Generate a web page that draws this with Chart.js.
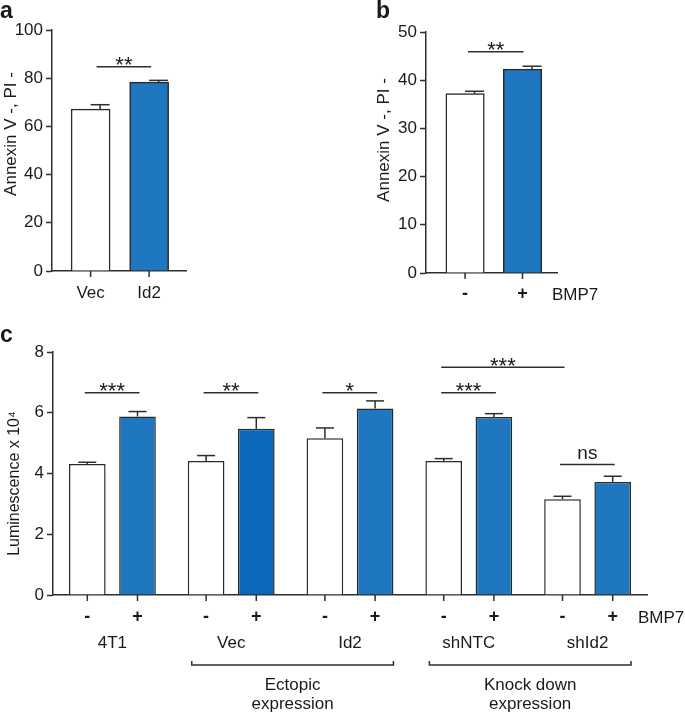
<!DOCTYPE html>
<html><head><meta charset="utf-8">
<script src="https://cdn.jsdelivr.net/npm/chart.js@4"></script>
<style>
body{margin:0;background:#fff;width:685px;height:717px;position:relative;overflow:hidden}
canvas{position:absolute}
</style></head><body>
<canvas id="ca" width="200" height="310" style="left:0;top:0"></canvas>
<canvas id="cb" width="280" height="310" style="left:355px;top:0"></canvas>
<canvas id="cc" width="685" height="417" style="left:0;top:300px"></canvas>
<script>
// ---- data ----
const aCategories = ['Vec', 'Id2'];
const aValues = [67.2, 78.4];
const aErrors = [1.8, 0.7];
const aSig = [{from: 0, to: 1, y: 84.8, label: '**'}];

const bCategories = ['-', '+'];
const bValues = [37.2, 42.3];
const bErrors = [0.5, 0.6];
const bSig = [{from: 0, to: 1, y: 45.9, label: '**'}];

const cGroups = ['4T1', 'Vec', 'Id2', 'shNTC', 'shId2'];
const cTreat = ['-', '+'];
const cMinus = [4.31, 4.41, 5.16, 4.41, 3.15];
const cMinusErr = [0.06, 0.18, 0.34, 0.08, 0.10];
const cPlus = [5.88, 5.47, 6.14, 5.86, 3.72];
const cPlusErr = [0.16, 0.37, 0.25, 0.11, 0.19];
const cSig = [
  {from: [0, 0], to: [1, 0], y: 6.66, label: '***'},
  {from: [0, 1], to: [1, 1], y: 6.66, label: '**'},
  {from: [0, 2], to: [1, 2], y: 6.66, label: '*'},
  {from: [0, 3], to: [1, 3], y: 6.66, label: '***'},
  {from: [0, 3], to: [0, 4], y: 7.5, label: '***'},
  {from: [0, 4], to: [1, 4], y: 4.3, label: 'ns'}
];
const cBrackets = [
  {from: 1, to: 2, lines: ['Ectopic', 'expression']},
  {from: 3, to: 4, lines: ['Knock down', 'expression']}
];

// ---- helpers ----
const FONT = '"Liberation Sans", Arial, Helvetica, sans-serif';
Chart.defaults.font.family = FONT;
const INK = '#1a1a1a', AX = '#2e2e2e';
const WHITE = '#ffffff', BLUE = '#1f77bf', BLUE2 = '#0a69bb';

function txt(ctx, s, x, y, size, opts = {}) {
  ctx.save();
  ctx.font = (opts.bold ? 'bold ' : '') + size + 'px ' + FONT;
  ctx.textAlign = opts.align || 'center';
  ctx.textBaseline = opts.base || 'alphabetic';
  ctx.fillStyle = INK;
  ctx.fillText(s, x, y);
  ctx.restore();
}
function vtxt(ctx, s, x, y, size) {
  ctx.save();
  ctx.translate(x, y);
  ctx.rotate(-Math.PI / 2);
  ctx.font = size + 'px ' + FONT;
  ctx.textAlign = 'center';
  ctx.textBaseline = 'middle';
  ctx.fillStyle = INK;
  ctx.fillText(s, 0, 0);
  ctx.restore();
}
function line(ctx, pts, w = 1.5) {
  ctx.save();
  ctx.strokeStyle = AX; ctx.lineWidth = w;
  ctx.beginPath();
  pts.forEach((p, i) => i ? ctx.lineTo(p[0], p[1]) : ctx.moveTo(p[0], p[1]));
  ctx.stroke();
  ctx.restore();
}
function errPlugin(errs, off, half) {
  return {
    id: 'errbars',
    afterDatasetsDraw(chart) {
      const ys = chart.scales.y, ctx = chart.ctx;
      chart.data.datasets.forEach((ds, di) => {
        chart.getDatasetMeta(di).data.forEach((bar, i) => {
          const raw = ds.data[i];
          const v = (typeof raw === 'object') ? raw.y : raw;
          const top = ys.getPixelForValue(v + errs[di][i]);
          const cx = bar.x + off;
          line(ctx, [[cx, bar.y], [cx, top]]);
          line(ctx, [[cx - half, top], [cx + half, top]]);
        });
      });
    }
  };
}
function sigDraw(chart, s, x1, x2) {
  const ctx = chart.ctx;
  const y = chart.scales.y.getPixelForValue(s.y);
  line(ctx, [[x1, y], [x2, y]]);
  const cx = (x1 + x2) / 2;
  if (s.label === 'ns') txt(ctx, s.label, cx, y - 5, 19);
  else txt(ctx, s.label, cx, y + 5.5, 22);
}
function xTick(chart, x) {
  const b = chart.chartArea.bottom;
  line(chart.ctx, [[x, b], [x, b + 6]]);
}

const yCommon = (max, step, width) => ({
  min: 0, max: max,
  ticks: {stepSize: step, color: INK, font: {size: 17}, padding: 3},
  grid: {drawOnChartArea: false, drawTicks: true, tickLength: 6, tickColor: AX, tickWidth: 1.5},
  border: {color: AX, width: 1.5},
  afterFit: s => { s.width = width; }
});
const baseOpts = {
  responsive: false, animation: false, events: [],
  plugins: {legend: {display: false}, tooltip: {enabled: false}}
};

// ---- panel a ----
new Chart(document.getElementById('ca'), {
  type: 'bar',
  data: {datasets: [{
    data: aCategories.map((c, i) => ({x: i, y: aValues[i]})),
    backgroundColor: [WHITE, BLUE], borderColor: '#2a2a2a', borderWidth: 1.5, barThickness: 39
  }]},
  options: Object.assign({}, baseOpts, {
    layout: {padding: {left: 0, top: 30, right: 14, bottom: 0}},
    scales: {
      x: {type: 'linear', min: -0.66, max: 1.63, offset: false, grid: {display: false}, ticks: {display: false},
          border: {color: AX, width: 1.5}, afterFit: s => { s.height = 39; }},
      y: yCommon(100, 20, 52)
    }
  }),
  plugins: [errPlugin([aErrors], 9.5, 9.5), {
    id: 'decorA',
    afterDraw(chart) {
      const ctx = chart.ctx, bars = chart.getDatasetMeta(0).data;
      bars.forEach((b, i) => { xTick(chart, b.x); txt(ctx, aCategories[i], b.x, 298, 17); });
      aSig.forEach(s => sigDraw(chart, s, bars[s.from].x + 6, bars[s.to].x + 2));
      vtxt(ctx, 'Annexin V -, PI -', 11, 134, 17);
      txt(ctx, 'a', 0, 18, 23, {bold: true, align: 'left'});
    }
  }]
});

// ---- panel b ----
new Chart(document.getElementById('cb'), {
  type: 'bar',
  data: {datasets: [{
    data: bCategories.map((c, i) => ({x: i, y: bValues[i]})),
    backgroundColor: [WHITE, BLUE], borderColor: '#2a2a2a', borderWidth: 1.5, barThickness: 38.5
  }]},
  options: Object.assign({}, baseOpts, {
    layout: {padding: {left: 0, top: 32, right: 78, bottom: 0}},
    scales: {
      x: {type: 'linear', min: -0.68, max: 1.6, offset: false, grid: {display: false}, ticks: {display: false},
          border: {color: AX, width: 1.5}, afterFit: s => { s.height = 37; }},
      y: yCommon(50, 10, 71)
    }
  }),
  plugins: [errPlugin([bErrors], 9.5, 9.5), {
    id: 'decorB',
    afterDraw(chart) {
      const ctx = chart.ctx, bars = chart.getDatasetMeta(0).data, ca = chart.chartArea;
      bars.forEach((b, i) => { xTick(chart, b.x); txt(ctx, bCategories[i], b.x, 294, 18, {bold: true, base: 'middle'}); });
      txt(ctx, 'BMP7', ca.right - 5, 300, 17, {align: 'left'});
      bSig.forEach(s => sigDraw(chart, s, bars[s.from].x + 3, bars[s.to].x + 1));
      vtxt(ctx, 'Annexin V -, PI -', 29.5, 140, 17);
      txt(ctx, 'b', 21, 18, 23, {bold: true, align: 'left'});
    }
  }]
});

// ---- panel c ----
new Chart(document.getElementById('cc'), {
  type: 'bar',
  data: {
    labels: cGroups,
    datasets: [
      {data: cMinus, backgroundColor: WHITE, borderColor: '#2a2a2a', borderWidth: 1.5,
       categoryPercentage: 0.845, barPercentage: 0.73},
      {data: cPlus, backgroundColor: [BLUE, BLUE2, BLUE, BLUE, BLUE], borderColor: '#2a2a2a', borderWidth: 1.5,
       categoryPercentage: 0.845, barPercentage: 0.73}
    ]
  },
  options: Object.assign({}, baseOpts, {
    layout: {padding: {left: 0, top: 52, right: 38, bottom: 0}},
    scales: {
      x: {grid: {display: false}, ticks: {display: false}, border: {color: AX, width: 1.5},
          afterFit: s => { s.height = 122; }},
      y: yCommon(8, 2, 53)
    }
  }),
  plugins: [errPlugin([cMinusErr, cPlusErr], 0, 9), {
    id: 'decorC',
    afterDraw(chart) {
      const ctx = chart.ctx, ca = chart.chartArea;
      const m0 = chart.getDatasetMeta(0).data, m1 = chart.getDatasetMeta(1).data;
      const metas = [m0, m1];
      cGroups.forEach((g, i) => {
        [m0[i], m1[i]].forEach((b, k) => {
          xTick(chart, b.x);
          txt(ctx, cTreat[k], b.x, 317, 18, {bold: true, base: 'middle'});
        });
        txt(ctx, g, (m0[i].x + m1[i].x) / 2, 348, 17);
      });
      txt(ctx, 'BMP7', ca.right - 9, 322.5, 17, {align: 'left'});
      cSig.forEach(s => {
        const b1 = metas[s.from[0]][s.from[1]], b2 = metas[s.to[0]][s.to[1]];
        sigDraw(chart, s, b1.x - 2.5, b2.x + 2);
      });
      cBrackets.forEach(br => {
        const l = m0[br.from], r = m1[br.to];
        const x1 = l.x - l.width / 2 + 4, x2 = r.x + r.width / 2;
        const y = 365;
        line(ctx, [[x1, y - 4], [x1, y], [x2, y], [x2, y - 4]]);
        const cx = (x1 + x2) / 2;
        txt(ctx, br.lines[0], cx, 390, 17);
        txt(ctx, br.lines[1], cx, 408.5, 17);
      });
      vtxt(ctx, 'Luminescence x 10\u2074', 15, 183.5, 16);
      txt(ctx, 'c', 0, 41.5, 23, {bold: true, align: 'left'});
    }
  }]
});
</script>
</body></html>
